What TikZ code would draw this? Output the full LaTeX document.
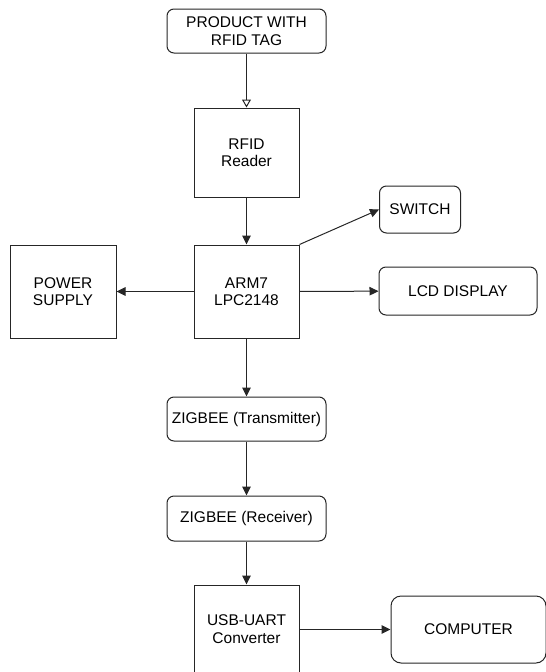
\documentclass[tikz,border=0pt]{standalone}
\usepackage{fontspec}
\setmainfont{Liberation Sans}
\usetikzlibrary{arrows.meta}

\begin{document}
\begin{tikzpicture}[
  x=1pt, y=-1pt,
  font=\fontsize{15.5}{17.5}\selectfont,
  block/.style={
    rectangle, draw=black!85, line width=1pt, inner sep=0pt,
    align=center, fill=white
  },
  rblock/.style={block, rounded corners=7pt},
  arr/.style={-{Triangle[length=9pt,width=8.5pt]}, line width=1pt, draw=black!85},
  openarr/.style={-{Triangle[open,length=8pt,width=9pt]}, line width=1pt, draw=black!85}
]
\useasboundingbox (0,0) rectangle (546,672);

% main column
\node[rblock, minimum width=159pt, minimum height=44pt] (tag) at (246.5,31) {PRODUCT WITH\\RFID TAG};
\node[block, minimum width=105pt, minimum height=89pt] (reader) at (246.5,152.5) {RFID\\Reader};
\node[block, minimum width=105pt, minimum height=93pt] (arm) at (246.5,291.5) {ARM7\\LPC2148};
\node[rblock, minimum width=159pt, minimum height=44pt] (ztx) at (246.5,419) {ZIGBEE (Transmitter)};
\node[rblock, minimum width=159pt, minimum height=45pt] (zrx) at (246.5,518.5) {ZIGBEE (Receiver)};
\node[block, minimum width=105pt, minimum height=88pt] (usb) at (246.5,629) {USB-UART\\Converter};

% side blocks
\node[block, minimum width=106pt, minimum height=93pt] (power) at (63,291.5) {POWER\\SUPPLY};
\node[rblock, minimum width=81pt, minimum height=47pt] (switch) at (420,209.5) {SWITCH};
\node[rblock, minimum width=158pt, minimum height=48pt] (lcd) at (458,291) {LCD DISPLAY};
\node[rblock, minimum width=155pt, minimum height=67pt, rounded corners=10pt] (pc) at (468.5,629.5) {COMPUTER};

% connectors
\draw[openarr] (tag) -- (reader);
\draw[arr] (reader) -- (arm);
\draw[arr] (arm.north east) -- (switch.west);
\draw[arr] (arm) -- (lcd);
\draw[arr] (arm) -- (power);
\draw[arr] (arm) -- (ztx);
\draw[arr] (ztx) -- (zrx);
\draw[arr] (zrx) -- (usb);
\draw[arr] (usb.east |- pc.west) -- (pc.west);

\end{tikzpicture}
\end{document}
